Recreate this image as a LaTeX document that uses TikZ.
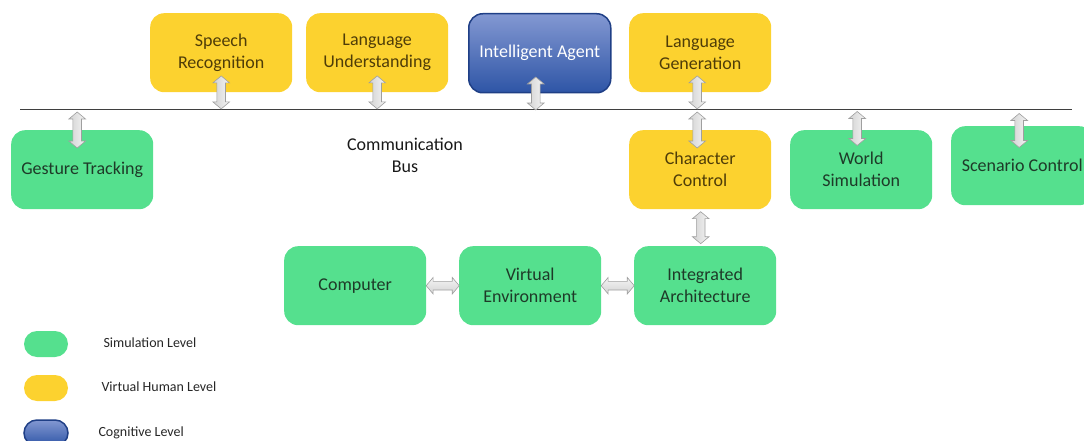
\documentclass[tikz,border=0pt]{standalone}
\usepackage{fontspec}
\setmainfont{Carlito}
\usetikzlibrary{shapes.arrows,calc}
\definecolor{simgreen}{HTML}{55E08E}
\definecolor{simtext}{HTML}{1E3A28}
\definecolor{vhyellow}{HTML}{FCD22F}
\definecolor{vhtext}{HTML}{4F3D08}
\definecolor{cogtop}{HTML}{8398D2}
\definecolor{cogbot}{HTML}{2E55A6}
\definecolor{cogedge}{HTML}{1F3F86}
\definecolor{buscol}{HTML}{3F3F3F}
\tikzset{
  box/.style={rounded corners=14pt, minimum width=142pt, minimum height=79pt,
    inner sep=0pt, align=center, font=\fontsize{18}{22}\selectfont, anchor=north west},
  simbox/.style={box, fill=simgreen, text=simtext},
  vhbox/.style={box, fill=vhyellow, text=vhtext},
  cogbox/.style={box, top color=cogtop, bottom color=cogbot, draw=cogedge,
    line width=1.5pt, text=white},
  link/.style={shape=double arrow, inner sep=4pt, double arrow head extend=4pt,
    double arrow tip angle=100, draw=gray!75, line width=0.6pt,
    left color=gray!35, right color=gray!8},
  vlink/.style={link, shape border rotate=90},
  hlink/.style={link, top color=gray!8, bottom color=gray!35},
  pill/.style={rounded corners=13pt, minimum width=44pt, minimum height=26pt,
    inner sep=0pt},
  legtext/.style={anchor=west, font=\fontsize{14}{16}\selectfont, text=black!85}
}
\begin{document}
\begin{tikzpicture}[x=1pt,y=-1pt]
\useasboundingbox (0,0) rectangle (1084,441);
\clip (0,0) rectangle (1084,441);

% communication bus
\coordinate (busL) at (20,110);
\coordinate (busR) at (1072,110);
\draw[buscol, line width=1pt] (busL) -- (busR);
\node[align=center, font=\fontsize{18}{22}\selectfont, text=black!90] (buslabel) at (405,155) {Communication\\Bus};

% upper row
\node[vhbox] (sr) at (150,13) {Speech\\Recognition};
\node[vhbox] (lu) at (306,13) {Language\\Understanding};
\node[cogbox] (ia) at (468,13) {Intelligent Agent};
\node[vhbox] (lg) at (629,13) {Language\\Generation};

% middle row
\node[simbox] (gt) at (11,130) {Gesture Tracking};
\node[vhbox] (cc) at (629,130) {Character\\Control};
\node[simbox] (ws) at (790,130) {World\\Simulation};
\node[simbox] (sc) at (951,126) {Scenario Control};

% lower row
\node[simbox] (pc) at (284,246) {Computer};
\node[simbox] (ve) at (459,246) {Virtual\\Environment};
\node[simbox] (ar) at (634,246) {Integrated\\Architecture};

% links to the bus
\node[vlink, minimum height=33pt] (lsr) at ($(sr.south)+(0,0)$) {};
\node[vlink, minimum height=33pt] (llu) at ($(lu.south)+(0,0)$) {};
\node[vlink, minimum height=33pt] (lia) at ($(ia.south)+(-4,0)$) {};
\node[vlink, minimum height=33pt] (llg) at ($(lg.south)+(-3,0)$) {};
\node[vlink, minimum height=36pt] (lgt) at ($(gt.north)+(-5,0)$) {};
\node[vlink, minimum height=36pt] (lcc) at ($(cc.north)+(-3,0)$) {};
\node[vlink, minimum height=34pt] (lws) at ($(ws.north)+(-4,-1.5)$) {};
\node[vlink, minimum height=34pt] (lsc) at ($(sc.north)+(-3,4.5)$) {};

% links between components
\node[vlink, minimum height=32pt] (lca) at ($(cc.south)!0.5!(ar.north)+(-2,0)$) {};
\node[link, hlink, minimum height=33pt] (lpv) at ($(pc.east)!0.5!(ve.west)$) {};
\node[link, hlink, minimum height=33pt] (lva) at ($(ve.east)!0.5!(ar.west)$) {};

% legend
\node[pill, fill=simgreen] (k1) at (46,344) {};
\node[pill, fill=vhyellow] (k2) at (46,388) {};
\node[pill, top color=cogtop, bottom color=cogbot, draw=cogedge, line width=1.5pt] (k3) at (46,433) {};
\node[legtext] (t1) at (100,343) {Simulation Level};
\node[legtext] (t2) at (98,387) {Virtual Human Level};
\node[legtext] (t3) at (95,433) {Cognitive Level};
\end{tikzpicture}
\end{document}
